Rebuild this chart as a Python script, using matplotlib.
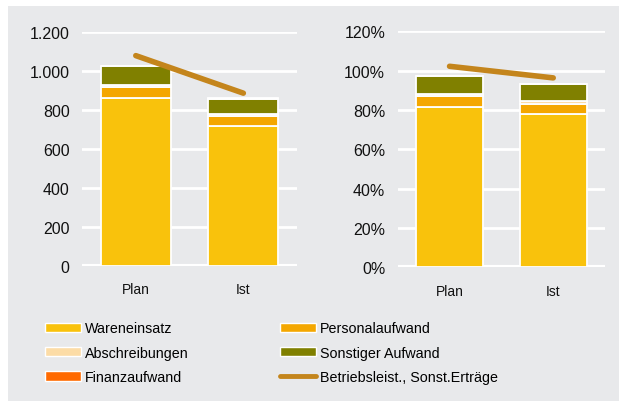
import matplotlib
matplotlib.use("Agg")
import matplotlib.pyplot as plt
from matplotlib.patches import Rectangle, Patch
from matplotlib.lines import Line2D
from matplotlib.ticker import FuncFormatter

plt.rcParams['font.family'] = ['Liberation Sans', 'DejaVu Sans']

categories = ["Plan", "Ist"]

# absolute values
waren_abs = [862, 720]
personal_abs = [56, 48]
abschr_abs = [12, 12]
sonstiger_abs = [96, 78]
finanz_abs = [2, 2]
betrieb_abs = [1080, 887]

# percent values
waren_pct = [81.7, 77.8]
personal_pct = [5.2, 5.4]
abschr_pct = [1.4, 1.5]
sonstiger_pct = [8.9, 8.5]
finanz_pct = [0.2, 0.2]
betrieb_pct = [102.2, 96.3]

series_names = ["Wareneinsatz", "Personalaufwand", "Abschreibungen",
                "Sonstiger Aufwand", "Finanzaufwand"]
line_name = "Betriebsleist., Sonst.Erträge"

colors = {
    "Wareneinsatz": "#F9C20C",
    "Personalaufwand": "#F4A700",
    "Abschreibungen": "#FCDCA6",
    "Sonstiger Aufwand": "#808000",
    "Finanzaufwand": "#FF6A00",
}
line_color = "#C4851C"
bg = "#E8E9EB"

fig = plt.figure(figsize=(6.19, 4.02), dpi=100)
fig.patch.set_facecolor("white")
fig.patches.append(Rectangle((8 / 619, 0), 611 / 619, 395 / 402,
                             transform=fig.transFigure, facecolor=bg,
                             edgecolor="none", zorder=-5))


def draw(ax, stacks, line_vals, ymax, step, fmt, pad):
    ax.set_facecolor(bg)
    x = range(len(categories))
    bottom = [0] * len(categories)
    for name, vals in zip(series_names, stacks):
        ax.bar(x, vals, bottom=bottom, width=0.65, color=colors[name],
               edgecolor="white", linewidth=1.3, zorder=3)
        bottom = [b + v for b, v in zip(bottom, vals)]
    ax.plot(list(x), line_vals, color=line_color, linewidth=4,
            solid_capstyle="round", zorder=4)
    ax.set_xlim(-0.5, 1.5)
    ax.set_ylim(0, ymax)
    ax.set_yticks([i * step for i in range(int(ymax / step) + 1)])
    ax.yaxis.set_major_formatter(FuncFormatter(fmt))
    ax.grid(axis="y", color="white", linewidth=2, zorder=1)
    ax.axhline(0, color="white", linewidth=3, zorder=2)
    for s in ax.spines.values():
        s.set_visible(False)
    ax.tick_params(length=0)
    ax.tick_params(axis="y", labelsize=11.5, pad=pad, colors="#111111")
    ax.tick_params(axis="x", labelsize=10, pad=12, colors="#111111")
    ax.set_xticks(list(x))
    ax.set_xticklabels(categories)


ax1 = fig.add_axes([0.1325, 0.3366, 0.3475, 0.5806])
draw(ax1, [waren_abs, personal_abs, abschr_abs, sonstiger_abs, finanz_abs],
     betrieb_abs, 1200, 200,
     lambda v, p: f"{int(v):,}".replace(",", "."), 9)

ax2 = fig.add_axes([0.6425, 0.3326, 0.335, 0.5871])
draw(ax2, [waren_pct, personal_pct, abschr_pct, sonstiger_pct, finanz_pct],
     betrieb_pct, 120, 20, lambda v, p: f"{int(v)}%", 9)

handles = [Patch(facecolor=colors[n], edgecolor="white", linewidth=1)
           for n in series_names]
handles.append(Line2D([], [], color=line_color, linewidth=3.5,
                      solid_capstyle="round"))
labels = series_names + [line_name]
order = [0, 2, 4, 1, 3, 5]
fig.legend([handles[i] for i in order], [labels[i] for i in order],
           ncol=2, loc="upper left", bbox_to_anchor=(0.073, 0.198),
           frameon=False, fontsize=10.3, handlelength=2.5, handleheight=0.6,
           handletextpad=0.3, columnspacing=6.35, labelspacing=0.72,
           borderaxespad=0, borderpad=0)

fig.savefig("out.png", dpi=100, facecolor=fig.get_facecolor())
